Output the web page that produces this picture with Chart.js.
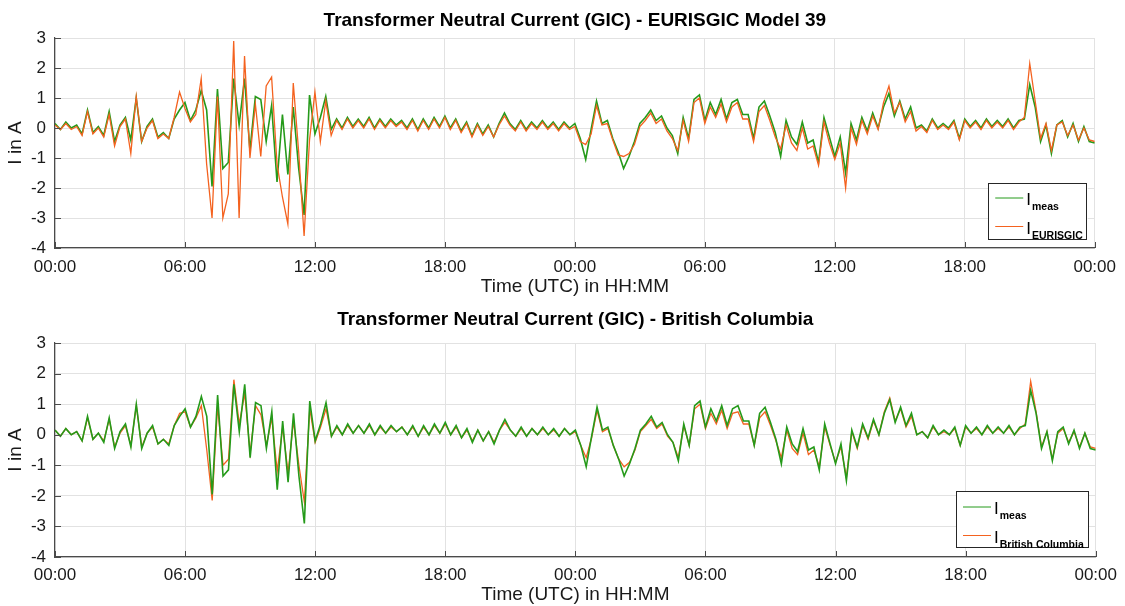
<!DOCTYPE html>
<html>
<head>
<meta charset="utf-8">
<script src="https://cdn.jsdelivr.net/npm/chart.js@4.4.1/dist/chart.umd.min.js"></script>
<style>
  html, body { margin: 0; padding: 0; background: #fff; }
  #wrap { position: relative; width: 1125px; height: 606px; }
  canvas { position: absolute; left: 0; }
</style>
</head>
<body>
<div id="wrap">
  <canvas id="top" width="1125" height="300" style="top:0"></canvas>
  <canvas id="bottom" width="1125" height="306" style="top:300px"></canvas>
</div>
<script>
// samples every 15 min, 0 to 48 h (one row = one hour)
const STEP_H = 0.25;

// measured neutral current (A)
const meas = [
  0.15, -0.05, 0.20, 0.00,
  0.10, -0.20, 0.60, -0.15,
  0.05, -0.25, 0.55, -0.45,
  0.10, 0.35, -0.40, 1.00,
  -0.45, 0.05, 0.30, -0.30,
  -0.15, -0.35, 0.30, 0.60,
  0.85, 0.25, 0.60, 1.25,
  0.60, -1.95, 1.30, -1.35,
  -1.15, 1.65, 0.10, 1.65,
  -0.75, 1.05, 0.95, -0.45,
  0.75, -1.80, 0.45, -1.55,
  0.70, -1.35, -2.90, 1.10,
  -0.20, 0.35, 1.05, -0.05,
  0.30, 0.00, 0.35, 0.05,
  0.30, 0.05, 0.35, 0.00,
  0.30, 0.05, 0.30, 0.10,
  0.25, 0.00, 0.30, -0.05,
  0.30, 0.00, 0.35, 0.05,
  0.40, 0.00, 0.30, -0.10,
  0.20, -0.25, 0.15, -0.20,
  0.10, -0.30, 0.15, 0.50,
  0.15, -0.05, 0.25, -0.05,
  0.20, 0.00, 0.25, 0.00,
  0.20, -0.05, 0.20, 0.00,
  0.15, -0.35, -1.05, -0.05,
  0.90, 0.15, 0.25, -0.35,
  -0.80, -1.35, -0.95, -0.45,
  0.15, 0.35, 0.60, 0.25,
  0.40, 0.00, -0.25, -0.85,
  0.35, -0.35, 0.95, 1.10,
  0.25, 0.85, 0.45, 0.95,
  0.30, 0.85, 0.95, 0.45,
  0.45, -0.35, 0.70, 0.90,
  0.40, -0.15, -0.95, 0.25,
  -0.30, -0.55, 0.20, -0.50,
  -0.40, -1.15, 0.35, -0.30,
  -0.95, -0.30, -1.50, 0.15,
  -0.40, 0.35, -0.10, 0.50,
  0.00, 0.70, 1.15, 0.40,
  0.90, 0.30, 0.70, 0.00,
  0.10, -0.10, 0.30, 0.00,
  0.15, 0.00, 0.25, -0.35,
  0.30, 0.05, 0.25, 0.00,
  0.30, 0.05, 0.25, 0.05,
  0.30, 0.00, 0.25, 0.30,
  1.45, 0.70, -0.45, 0.10,
  -0.85, 0.10, 0.25, -0.30,
  0.15, -0.45, 0.05, -0.45,
  -0.50
];

// EURISGIC model 39
const eurisgic = [
  0.10, -0.05, 0.15, -0.05,
  0.05, -0.25, 0.55, -0.20,
  0.00, -0.30, 0.45, -0.60,
  0.05, 0.30, -0.85, 1.05,
  -0.45, 0.00, 0.25, -0.35,
  -0.20, -0.35, 0.35, 1.20,
  0.65, 0.20, 0.45, 1.65,
  -1.20, -3.00, 1.05, -3.00,
  -2.20, 2.90, -3.00, 2.40,
  -1.00, 0.80, -0.95, 1.40,
  1.70, -1.20, -2.30, -3.20,
  1.50, -0.80, -3.60, -0.40,
  1.20, -0.45, 0.90, -0.25,
  0.25, -0.05, 0.30, 0.00,
  0.25, 0.00, 0.30, -0.05,
  0.25, 0.00, 0.25, 0.05,
  0.20, -0.05, 0.25, -0.10,
  0.25, -0.05, 0.30, 0.00,
  0.35, -0.05, 0.25, -0.15,
  0.15, -0.30, 0.10, -0.25,
  0.05, -0.30, 0.10, 0.40,
  0.10, -0.10, 0.20, -0.10,
  0.15, -0.05, 0.20, -0.05,
  0.15, -0.10, 0.15, -0.05,
  0.05, -0.45, -0.55, -0.20,
  0.75, 0.10, 0.15, -0.40,
  -0.90, -0.95, -0.85, -0.55,
  0.05, 0.25, 0.50, 0.15,
  0.30, -0.10, -0.35, -0.75,
  0.25, -0.45, 0.85, 1.00,
  0.15, 0.70, 0.35, 0.80,
  0.20, 0.70, 0.85, 0.30,
  0.30, -0.45, 0.55, 0.75,
  0.25, -0.30, -0.70, 0.10,
  -0.50, -0.75, 0.00, -0.70,
  -0.60, -1.25, 0.20, -0.50,
  -1.05, -0.50, -2.00, 0.00,
  -0.55, 0.25, -0.20, 0.40,
  -0.05, 0.85, 1.40, 0.50,
  0.85, 0.20, 0.55, -0.10,
  0.05, -0.15, 0.25, -0.05,
  0.10, -0.05, 0.20, -0.40,
  0.25, 0.00, 0.20, -0.05,
  0.25, 0.00, 0.20, 0.00,
  0.25, -0.05, 0.20, 0.35,
  2.15, 0.90, -0.35, 0.15,
  -0.75, 0.10, 0.20, -0.25,
  0.10, -0.40, 0.00, -0.40,
  -0.45
];

// British Columbia model
const britishColumbia = [
  0.15, -0.05, 0.20, 0.00,
  0.10, -0.20, 0.55, -0.15,
  0.05, -0.20, 0.50, -0.40,
  0.05, 0.30, -0.35, 0.95,
  -0.40, 0.05, 0.25, -0.30,
  -0.15, -0.30, 0.30, 0.70,
  0.75, 0.25, 0.55, 0.95,
  -0.50, -2.15, 0.95, -1.00,
  -0.80, 1.80, 0.35, 1.35,
  -0.60, 0.95, 0.65, -0.35,
  0.55, -1.20, 0.25, -1.25,
  0.45, -1.00, -2.20, 0.85,
  -0.25, 0.25, 0.85, -0.05,
  0.25, 0.00, 0.30, 0.05,
  0.30, 0.05, 0.30, 0.00,
  0.25, 0.05, 0.25, 0.10,
  0.25, 0.00, 0.25, -0.05,
  0.25, 0.00, 0.30, 0.05,
  0.35, 0.00, 0.25, -0.10,
  0.15, -0.20, 0.15, -0.20,
  0.10, -0.25, 0.15, 0.40,
  0.15, -0.05, 0.20, -0.05,
  0.20, 0.00, 0.20, 0.00,
  0.15, -0.05, 0.20, 0.00,
  0.10, -0.35, -0.75, -0.10,
  0.80, 0.10, 0.20, -0.35,
  -0.80, -1.05, -0.90, -0.50,
  0.10, 0.30, 0.50, 0.20,
  0.35, -0.05, -0.25, -0.75,
  0.30, -0.35, 0.85, 1.00,
  0.20, 0.70, 0.35, 0.80,
  0.20, 0.70, 0.75, 0.35,
  0.35, -0.35, 0.55, 0.75,
  0.30, -0.20, -0.75, 0.15,
  -0.45, -0.65, 0.05, -0.65,
  -0.50, -1.05, 0.25, -0.35,
  -0.90, -0.40, -1.40, 0.10,
  -0.45, 0.30, -0.15, 0.45,
  0.00, 0.75, 1.20, 0.45,
  0.85, 0.25, 0.60, 0.00,
  0.10, -0.10, 0.25, 0.00,
  0.10, 0.00, 0.20, -0.35,
  0.25, 0.05, 0.20, 0.00,
  0.25, 0.05, 0.20, 0.05,
  0.25, 0.00, 0.20, 0.35,
  1.75, 0.75, -0.40, 0.10,
  -0.80, 0.05, 0.20, -0.25,
  0.10, -0.40, 0.05, -0.40,
  -0.45
];

const FONT = '"Liberation Sans", Arial, sans-serif';
const GREEN = '#259a1a';
const ORANGE = '#f4621f';
const AXIS = '#4a4a4a';
const TEXT = '#1a1a1a';

const toPoints = (vals) => vals.map((v, i) => ({ x: i * STEP_H, y: v }));
const hhmm = (h) => String(h % 24).padStart(2, '0') + ':00';

// title centred over the plot area (MATLAB style), not over the canvas
const axesTitle = {
  id: 'axesTitle',
  afterDraw(chart, args, opts) {
    const { ctx, chartArea: a } = chart;
    ctx.save();
    ctx.fillStyle = '#000';
    ctx.font = 'bold 19px ' + FONT;
    ctx.textAlign = 'center';
    ctx.textBaseline = 'middle';
    ctx.fillText(opts.text, (a.left + a.right) / 2, opts.y);
    ctx.restore();
  }
};

// MATLAB-style inward tick marks
const inwardTicks = {
  id: 'inwardTicks',
  afterDatasetsDraw(chart) {
    const { ctx, chartArea: a, scales: { x, y } } = chart;
    ctx.save();
    ctx.strokeStyle = AXIS;
    ctx.lineWidth = 1;
    ctx.beginPath();
    x.ticks.forEach((t) => {
      const px = Math.round(x.getPixelForValue(t.value)) + 0.5;
      ctx.moveTo(px, a.bottom);
      ctx.lineTo(px, a.bottom - 6);
    });
    y.ticks.forEach((t) => {
      const py = Math.round(y.getPixelForValue(t.value)) + 0.5;
      ctx.moveTo(a.left, py);
      ctx.lineTo(a.left + 6, py);
    });
    ctx.stroke();
    ctx.restore();
  }
};

// legend box with subscripted labels (I_meas, I_model)
const subLegend = {
  id: 'subLegend',
  afterDraw(chart, args, opts) {
    const { ctx, chartArea: a } = chart;
    const sets = chart.data.datasets;
    ctx.save();
    ctx.font = 'bold 10.5px ' + FONT;
    const subW = Math.max(...sets.map((d) => ctx.measureText(d.label).width));
    ctx.font = '17px ' + FONT;
    const iW = ctx.measureText('I').width;
    const w = 7 + 28 + 3 + iW + 1 + subW + 5;
    const h = 57;
    const right = a.right - 7;
    const bottom = a.bottom - opts.gap;
    const left = right - w;
    const top = bottom - h;
    ctx.fillStyle = '#fff';
    ctx.fillRect(left, top, w, h);
    ctx.strokeStyle = '#262626';
    ctx.lineWidth = 1;
    ctx.strokeRect(Math.round(left) + 0.5, Math.round(top) + 0.5, Math.round(w) - 1, h - 1);
    sets.forEach((d, i) => {
      const yy = top + opts.first + i * 28.5;
      ctx.strokeStyle = d.borderColor;
      ctx.lineWidth = 1;
      ctx.beginPath();
      ctx.moveTo(left + 7, yy);
      ctx.lineTo(left + 35, yy);
      ctx.stroke();
      ctx.fillStyle = '#000';
      ctx.textBaseline = 'alphabetic';
      ctx.font = '17px ' + FONT;
      ctx.fillText('I', left + 38, yy + 7);
      ctx.font = 'bold 10.5px ' + FONT;
      ctx.fillText(d.label, left + 38 + iW + 1, yy + 12);
    });
    ctx.restore();
  }
};

function makePanel(canvasId, model, modelLabel, titleText, g) {
  const datasets = [
    { label: 'meas', data: toPoints(meas), borderColor: GREEN, borderWidth: 1.6, order: g.measOrder },
    { label: modelLabel, data: toPoints(model), borderColor: ORANGE, borderWidth: 1.3, order: g.modelOrder }
  ];
  datasets.forEach((d) => { d.pointRadius = 0; d.tension = 0; d.fill = false; });

  return new Chart(document.getElementById(canvasId), {
    type: 'line',
    data: { datasets },
    plugins: [axesTitle, inwardTicks, subLegend],
    options: {
      responsive: false,
      animation: false,
      devicePixelRatio: 1,
      layout: { padding: { left: 0, right: 29, top: g.plotTop, bottom: 0 } },
      plugins: {
        legend: { display: false },
        tooltip: { enabled: false },
        title: { display: false },
        axesTitle: { text: titleText, y: g.titleY },
        subLegend: { gap: g.legendGap, first: g.legendFirst }
      },
      scales: {
        x: {
          type: 'linear',
          min: 0,
          max: 48,
          afterFit: (s) => { s.height = g.xHeight; },
          ticks: {
            stepSize: 6,
            autoSkip: false,
            maxRotation: 0,
            padding: g.xTickPad,
            color: TEXT,
            font: { family: FONT, size: 17 },
            callback: (v) => hhmm(v)
          },
          grid: { color: '#e2e2e2', drawTicks: false },
          border: { display: true, color: AXIS, width: 1.2 },
          title: {
            display: true,
            text: 'Time (UTC) in HH:MM',
            color: TEXT,
            font: { family: FONT, size: 19 },
            padding: { top: 0, bottom: g.xTitleBottom }
          }
        },
        y: {
          min: -4,
          max: 3,
          afterFit: (s) => { s.width = 55; },
          ticks: {
            stepSize: 1,
            padding: 9,
            color: TEXT,
            font: { family: FONT, size: 17 }
          },
          grid: { color: '#e2e2e2', drawTicks: false },
          border: { display: true, color: AXIS, width: 1.2 },
          title: {
            display: true,
            text: 'I in A',
            color: TEXT,
            font: { family: FONT, size: 19 },
            padding: { top: 4, bottom: 0 }
          }
        }
      }
    }
  });
}

makePanel('top', eurisgic, 'EURISGIC',
  'Transformer Neutral Current (GIC) - EURISGIC Model 39',
  { plotTop: 38, titleY: 21, xHeight: 52, xTickPad: 9, xTitleBottom: 1.6,
    legendGap: 8, legendFirst: 15, measOrder: 1, modelOrder: 0 });

makePanel('bottom', britishColumbia, 'British Columbia',
  'Transformer Neutral Current (GIC) - British Columbia',
  { plotTop: 43, titleY: 19.5, xHeight: 49, xTickPad: 8, xTitleBottom: 0,
    legendGap: 9, legendFirst: 16, measOrder: 0, modelOrder: 1 });
</script>
</body>
</html>
